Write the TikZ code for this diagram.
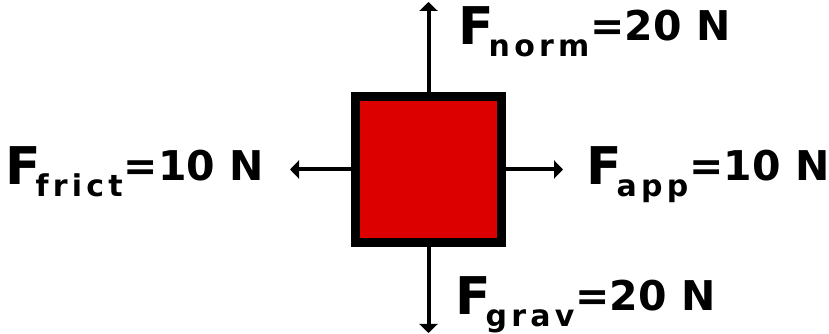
\documentclass[tikz,border=0pt]{standalone}
\usepackage{fontspec}
\setmainfont{DejaVu Sans}
\newfontfamily\subfont[LetterSpace=14]{DejaVu Sans}
\usetikzlibrary{positioning,arrows.meta}

\definecolor{blockred}{RGB}{220,0,0}
\newcommand\fbig{\fontsize{52pt}{52pt}\selectfont\bfseries}
\newcommand\fmain{\fontsize{41pt}{41pt}\selectfont\bfseries}
\newcommand\fsub{\subfont\fontsize{30pt}{30pt}\selectfont\bfseries}
\newcommand\forcelabel[2]{{\fbig F}\kern-5pt\raisebox{-12pt}{\fsub #1}\kern1pt\raisebox{4pt}{\fmain #2}}

\begin{document}
\begin{tikzpicture}[
  x=1pt, y=1pt,
  block/.style={
    rectangle,
    draw=black,
    line width=9pt,
    fill=blockred,
    minimum width=146pt,
    minimum height=146pt,
    inner sep=0pt,
  },
  push/.style={-{Triangle[length=9pt,width=18pt]}, line width=4pt},
  lbl/.style={inner sep=0pt, anchor=base west},
]
  \useasboundingbox (0,0) rectangle (829,334);

  % --- the crate ---
  \node[block] (crate) at (428.5,164.5) {};

  % --- arrow tips ---
  \coordinate[above=90pt of crate.north] (ntip);
  \coordinate[below=86pt of crate.south] (gtip);
  \coordinate[left=61pt of crate.west] (ftip);
  \coordinate[right=57pt of crate.east] (atip);

  \foreach \a/\b in {crate.north/ntip, crate.south/gtip, crate.west/ftip, crate.east/atip} {
    \draw[push] (\a) -- (\b);
  }

  % --- force labels ---
  \node[lbl] (norm) at (458,289) {\forcelabel{norm}{=20 N}};
  \node[lbl] (frict) at (5,149) {\forcelabel{frict}{=10 N}};
  \node[lbl] (app) at (586,149) {\forcelabel{app}{=10 N}};
  \node[lbl] (grav) at (455,19) {\forcelabel{grav}{=20 N}};

\end{tikzpicture}
\end{document}
